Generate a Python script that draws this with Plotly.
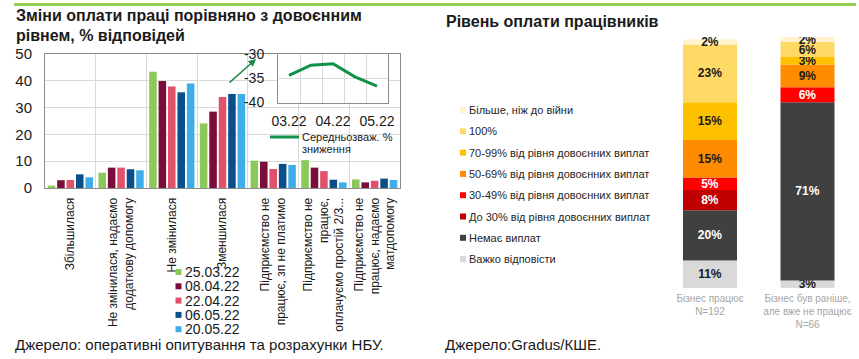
import plotly.graph_objects as go
import numpy as np

W, H = 859, 359

# ---------------- Left chart data ----------------
categories = [
    "Збільшилася",
    "Не змінилася, надаємо<br>додаткову допомогу",
    "Не змінилася",
    "Зменшилася",
    "Підприємство не<br>працює, зп не платимо",
    "Підприємство не<br>працює,<br>оплачуємо простій 2/3...",
    "Підприємство не<br>працює, надаємо<br>матдопомогу",
]
survey_dates = ["25.03.22", "08.04.22", "22.04.22", "06.05.22", "20.05.22"]
s_25_03 = [0.9, 5.7, 43.4, 24.1, 10.2, 10.4, 3.2]
s_08_04 = [2.9, 7.6, 39.9, 28.5, 9.8, 7.6, 2.1]
s_22_04 = [3.0, 7.6, 37.9, 34.0, 7.1, 6.3, 2.7]
s_06_05 = [5.1, 7.0, 35.7, 35.1, 9.0, 3.1, 3.5]
s_20_05 = [4.0, 6.6, 39.0, 35.1, 8.6, 2.1, 3.0]
main_ticks = [0, 10, 20, 30, 40, 50]

# Inset: weighted average decline
inset_points = [0, 1, 2, 3, 4]
avg_decline = [-34.4, -32.3, -32.0, -34.7, -36.6]
inset_tick_pos = [0, 2, 4]
inset_tick_text = ["03.22", "04.22", "05.22"]
inset_y_ticks = [-30, -35, -40]

# ---------------- Right chart data ----------------
groups = ["Бізнес працює<br>N=192", "Бізнес був раніше,<br>але вже не працює<br>N=66"]
pay_levels = [
    "Важко відповісти",
    "Немає виплат",
    "До 30% від рівня довоєнних виплат",
    "30-49% від рівня довоєнних виплат",
    "50-69% від рівня довоєнних виплат",
    "70-99% від рівня довоєнних виплат",
    "100%",
    "Більше, ніж до війни",
]
working = [11, 20, 8, 5, 15, 15, 23, 2]
closed = [3, 71, 0, 6, 9, 3, 6, 2]

# ---------------- Styles ----------------
FONT = "Liberation Sans, Arial, sans-serif"
TXT = "#1a1a1a"
GRID = "#d9d9d9"
FRAME = "#8c8c8c"
series = [s_25_03, s_08_04, s_22_04, s_06_05, s_20_05]
series_colors = ["#8cc85a", "#7a0d3a", "#e0526b", "#0b4f8a", "#3daee9"]
level_colors = ["#d9d9d9", "#404040", "#c00000", "#ff0000", "#ff8c00", "#ffc000", "#ffd966", "#fff2cc"]
level_text_colors = [TXT, "white", "white", "white", TXT, TXT, TXT, TXT]


def px(x):
    return x / W


def py(y):
    return 1 - y / H


fig = go.Figure()

for name, vals, col in zip(survey_dates, series, series_colors):
    fig.add_trace(go.Bar(x=categories, y=vals, name=name, marker_color=col,
                         marker_line_width=0, xaxis="x", yaxis="y", showlegend=False))

fig.add_trace(go.Scatter(x=inset_points, y=avg_decline, mode="lines",
                         line=dict(color="#11904a", width=3), xaxis="x2", yaxis="y2",
                         showlegend=False))

cum_w = np.concatenate([[0], np.cumsum(working)[:-1]])
cum_c = np.concatenate([[0], np.cumsum(closed)[:-1]])
for i, lvl in enumerate(pay_levels):
    vals = [working[i], closed[i]]
    fig.add_trace(go.Bar(
        x=groups, y=vals, base=[cum_w[i], cum_c[i]], name=lvl,
        width=0.554, offset=-0.277,
        marker_color=level_colors[i], marker_line_width=0,
        text=[f"{v}%" if v > 0 else "" for v in vals],
        textposition="inside", insidetextanchor="middle", textangle=0,
        constraintext="none",
        textfont=dict(family=FONT, size=12, color=level_text_colors[i], weight="bold"),
        xaxis="x3", yaxis="y3", showlegend=False))

shapes = []
annotations = []

# Top green rule
shapes.append(dict(type="rect", xref="paper", yref="paper", x0=px(14), x1=px(856),
                   y0=py(6), y1=py(3), fillcolor="#92d050", line=dict(width=0), layer="above"))

# Titles
annotations.append(dict(text="<b>Зміни оплати праці порівняно з довоєнним</b>", x=px(14), y=py(16),
                        xref="paper", yref="paper", xanchor="left", yanchor="middle", showarrow=False,
                        font=dict(family=FONT, size=16, color=TXT)))
annotations.append(dict(text="<b>рівнем, % відповідей</b>", x=px(14), y=py(35.5),
                        xref="paper", yref="paper", xanchor="left", yanchor="middle", showarrow=False,
                        font=dict(family=FONT, size=16, color=TXT)))
annotations.append(dict(text="<b>Рівень оплати працівників</b>", x=px(444), y=py(21.5),
                        xref="paper", yref="paper", xanchor="left", yanchor="middle", showarrow=False,
                        font=dict(family=FONT, size=16, color=TXT)))

# Sources
annotations.append(dict(text="Джерело: оперативні опитування та розрахунки НБУ.", x=px(13), y=py(344),
                        xref="paper", yref="paper", xanchor="left", yanchor="middle", showarrow=False,
                        font=dict(family=FONT, size=15, color=TXT)))
annotations.append(dict(text="Джерело:Gradus/КШЕ.", x=px(443), y=py(344),
                        xref="paper", yref="paper", xanchor="left", yanchor="middle", showarrow=False,
                        font=dict(family=FONT, size=15, color=TXT)))

# Left legend (dates)
for k, (name, col) in enumerate(zip(survey_dates, series_colors)):
    yc = 272 + k * 14.3
    shapes.append(dict(type="rect", xref="paper", yref="paper", x0=px(175.5), x1=px(181.5),
                       y0=py(yc + 3), y1=py(yc - 3), fillcolor=col, line=dict(width=0)))
    annotations.append(dict(text=name, x=px(183), y=py(yc), xref="paper", yref="paper",
                            xanchor="left", yanchor="middle", showarrow=False,
                            font=dict(family=FONT, size=14, color=TXT)))

# Inset legend
shapes.append(dict(type="line", xref="paper", yref="paper", x0=px(270), x1=px(299),
                   y0=py(137), y1=py(137), line=dict(color="#11904a", width=3)))
annotations.append(dict(text="Середньозваж. %", x=px(300), y=py(137), xref="paper", yref="paper",
                        xanchor="left", yanchor="middle", showarrow=False,
                        font=dict(family=FONT, size=11, color=TXT)))
annotations.append(dict(text="зниження", x=px(300), y=py(148.5), xref="paper", yref="paper",
                        xanchor="left", yanchor="middle", showarrow=False,
                        font=dict(family=FONT, size=11, color=TXT)))

# Arrow
annotations.append(dict(text="", x=px(256), y=py(59), xref="paper", yref="paper",
                        showarrow=True, ax=-28, ay=25, arrowhead=2, arrowsize=1,
                        arrowwidth=1.5, arrowcolor="#1b8a4a"))

# Right legend (reversed order, top = last level)
for k, i in enumerate(range(len(pay_levels) - 1, -1, -1)):
    yc = 110 + k * 21.3
    shapes.append(dict(type="rect", xref="paper", yref="paper", x0=px(460), x1=px(466),
                       y0=py(yc + 3), y1=py(yc - 3), fillcolor=level_colors[i], line=dict(width=0)))
    annotations.append(dict(text=pay_levels[i], x=px(467), y=py(yc), xref="paper", yref="paper",
                            xanchor="left", yanchor="middle", showarrow=False,
                            font=dict(family=FONT, size=11, color="#262626")))

fig.update_layout(
    width=W, height=H,
    margin=dict(l=0, r=0, t=0, b=0, autoexpand=False),
    paper_bgcolor="white", plot_bgcolor="white",
    barmode="group", bargap=0.07, bargroupgap=0.2,
    uniformtext=dict(minsize=12, mode="show"),
    font=dict(family=FONT, color=TXT),
    xaxis=dict(domain=[px(45), px(400)], anchor="y", type="category", tickson="boundaries",
               automargin=False,
               showgrid=True, gridcolor=GRID, showline=True, mirror=True, linecolor=FRAME,
               linewidth=1, ticks="", tickangle=-90, ticklabelstandoff=4,
               tickfont=dict(family=FONT, size=12, color=TXT)),
    yaxis=dict(domain=[py(188), py(54)], anchor="x", range=[0, 50], tickvals=main_ticks,
               automargin=False,
               showgrid=True, gridcolor=GRID, showline=True, mirror=True, linecolor=FRAME,
               linewidth=1, ticks="", ticklabelstandoff=9, zeroline=False,
               tickfont=dict(family=FONT, size=15, color=TXT)),
    xaxis2=dict(domain=[px(278), px(388)], anchor="y2", range=[-0.5, 4.5],
                automargin=False,
                tickvals=inset_tick_pos, ticktext=inset_tick_text, showgrid=False,
                minor=dict(tick0=0.5, dtick=1, showgrid=True, gridcolor=GRID, ticks=""),
                showline=True, mirror=True, linecolor=FRAME, linewidth=1, ticks="",
                ticklabelstandoff=6, zeroline=False,
                tickfont=dict(family=FONT, size=14, color=TXT)),
    yaxis2=dict(domain=[py(102.5), py(54)], anchor="x2", range=[-40, -30],
                automargin=False,
                tickvals=inset_y_ticks, ticktext=[str(v) for v in inset_y_ticks],
                showgrid=True, gridcolor=GRID, showline=True, mirror=True, linecolor=FRAME,
                linewidth=1, ticks="", ticklabelstandoff=10, zeroline=False,
                tickfont=dict(family=FONT, size=14, color=TXT)),
    xaxis3=dict(domain=[px(661.25), px(856.25)], anchor="y3", type="category",
                automargin=False,
                range=[-0.5, 1.5], showgrid=False, showline=False, ticks="",
                ticklabelstandoff=3, tickfont=dict(family=FONT, size=10, color="#a6a6a6")),
    yaxis3=dict(domain=[py(288), py(37)], anchor="x3", range=[0, 100], visible=False,
                automargin=False),
    shapes=shapes,
    annotations=annotations,
)

fig.write_html("out.html", config={"displayModeBar": False},
               post_script="document.body.style.margin='0px';document.body.style.overflow='hidden';")
